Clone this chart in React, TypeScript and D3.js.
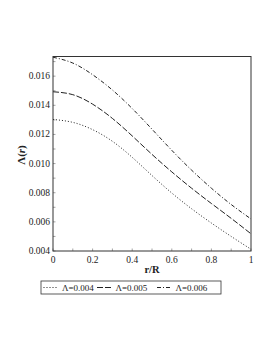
import { useEffect, useRef } from 'react';
import * as d3 from 'd3';

// r/R sample points and the three Λ(r) profiles
const rPoints = [0, 0.1, 0.2, 0.3, 0.4, 0.5, 0.6, 0.7, 0.8, 0.9, 1.0];
const lambda004 = [0.01303, 0.01283, 0.01233, 0.01153, 0.01043, 0.00918, 0.00798, 0.0069, 0.00592, 0.005, 0.00412];
const lambda005 = [0.01493, 0.01473, 0.01408, 0.0131, 0.0119, 0.01063, 0.00943, 0.00831, 0.00726, 0.00624, 0.00518];
const lambda006 = [0.0173, 0.0169, 0.0161, 0.01505, 0.01378, 0.01236, 0.01091, 0.00955, 0.00831, 0.00719, 0.0062];

const seriesNames = ['Λ=0.004', 'Λ=0.005', 'Λ=0.006'];
const dashStyles = ['1,2', '6,2', '4,2,1,2'];
const xTicks = [0, 0.2, 0.4, 0.6, 0.8, 1];
const yTicks = [0.004, 0.006, 0.008, 0.01, 0.012, 0.014, 0.016];

export default function App() {
  const svgRef = useRef<SVGSVGElement>(null);

  useEffect(() => {
    if (!svgRef.current) return;
    const svg = d3.select(svgRef.current);
    svg.selectAll('*').remove();

    const W = 273, H = 353;
    const plot = { left: 53, right: 251, top: 56.5, bottom: 251 };
    const font = '"Liberation Serif", "Times New Roman", serif';
    const ink = '#222';

    svg.attr('width', W).attr('height', H);
    svg.append('rect').attr('width', W).attr('height', H).attr('fill', '#fff');

    const x = d3.scaleLinear().domain([0, 1]).range([plot.left, plot.right]);
    const y = d3.scaleLinear().domain([0.004, 0.01735]).range([plot.bottom, plot.top]);

    // minor ticks pointing in
    const g = svg.append('g');
    d3.range(0, 1.0001, 0.1).forEach(v => {
      g.append('line')
        .attr('x1', x(v)).attr('x2', x(v))
        .attr('y1', plot.bottom).attr('y2', plot.bottom - 2.5)
        .attr('stroke', '#666').attr('stroke-width', 0.6);
    });
    d3.range(0.004, 0.01701, 0.001).forEach(v => {
      g.append('line')
        .attr('x1', plot.left).attr('x2', plot.left + 2.5)
        .attr('y1', y(v)).attr('y2', y(v))
        .attr('stroke', '#666').attr('stroke-width', 0.6);
    });

    // tick labels
    g.selectAll('.xl').data(xTicks).enter().append('text')
      .attr('x', d => x(d)).attr('y', plot.bottom + 12)
      .attr('text-anchor', 'middle')
      .attr('font-family', font).attr('font-size', 9.5).attr('fill', ink)
      .text(d => String(d));
    g.selectAll('.yl').data(yTicks).enter().append('text')
      .attr('x', plot.left - 3).attr('y', d => y(d) + 3)
      .attr('text-anchor', 'end')
      .attr('font-family', font).attr('font-size', 9.5).attr('fill', ink)
      .text(d => d3.format('.3f')(d));

    // curves
    const line = d3.line<[number, number]>()
      .x(d => x(d[0])).y(d => y(d[1]))
      .curve(d3.curveNatural);
    [lambda004, lambda005, lambda006].forEach((vals, i) => {
      svg.append('path')
        .datum(rPoints.map((r, k) => [r, vals[k]] as [number, number]))
        .attr('d', line)
        .attr('fill', 'none')
        .attr('stroke', ink)
        .attr('stroke-width', 1)
        .attr('stroke-dasharray', dashStyles[i]);
    });

    // frame
    svg.append('rect')
      .attr('x', plot.left).attr('y', plot.top)
      .attr('width', plot.right - plot.left).attr('height', plot.bottom - plot.top)
      .attr('fill', 'none').attr('stroke', '#333').attr('stroke-width', 1);

    // axis titles
    svg.append('text')
      .attr('x', (plot.left + plot.right) / 2).attr('y', 273)
      .attr('text-anchor', 'middle')
      .attr('font-family', font).attr('font-size', 10.5).attr('font-weight', 'bold').attr('fill', ink)
      .text('r/R');
    const yt = svg.append('text')
      .attr('transform', 'translate(25,155) rotate(-90)')
      .attr('text-anchor', 'middle')
      .attr('font-family', font).attr('font-size', 11).attr('font-weight', 'bold').attr('fill', ink);
    yt.append('tspan').text('Λ(');
    yt.append('tspan').attr('font-style', 'italic').text('r');
    yt.append('tspan').text(')');

    // legend
    const lg = svg.append('g');
    lg.append('rect')
      .attr('x', 41).attr('y', 281).attr('width', 180).attr('height', 13)
      .attr('fill', '#fff').attr('stroke', '#333').attr('stroke-width', 0.8);
    const sampleX = [43.5, 97, 157];
    seriesNames.forEach((name, i) => {
      lg.append('line')
        .attr('x1', sampleX[i]).attr('x2', sampleX[i] + 15)
        .attr('y1', 287.5).attr('y2', 287.5)
        .attr('stroke', ink).attr('stroke-width', 1)
        .attr('stroke-dasharray', dashStyles[i]);
      lg.append('text')
        .attr('x', sampleX[i] + 18.5).attr('y', 290.5)
        .attr('font-family', font).attr('font-size', 9).attr('fill', ink)
        .text(name);
    });
  }, []);

  return <svg ref={svgRef} style={{ position: 'absolute', left: 0, top: 0 }} />;
}
